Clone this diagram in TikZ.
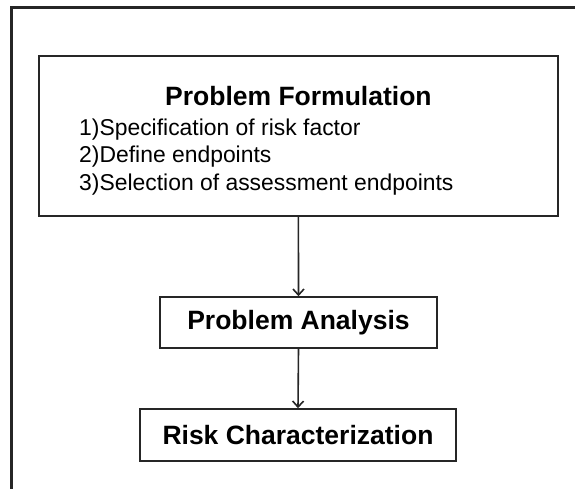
\documentclass[tikz,border=0pt]{standalone}
\usepackage{fontspec}
\setmainfont{Liberation Sans}
\usetikzlibrary{arrows.meta,positioning}

\tikzset{
	stage/.style={draw=black!85, line width=1.6pt, inner sep=0pt, font=\fontsize{26.5}{30}\selectfont\bfseries},
	item/.style={anchor=base west, inner sep=0pt, font=\fontsize{22.9}{27}\selectfont},
	flow/.style={draw=black!85, line width=1.6pt, -{Straight Barb[length=6pt,width=11pt,line width=1.6pt]}}
}

\begin{document}
\begin{tikzpicture}[x=1pt,y=-1pt]
	\useasboundingbox (0,0) rectangle (575,488);
	
	% Rahmen
	\draw[line width=3pt, black!85] (11,500) -- (11,7.3) -- (600,7.3);
	
	% Problem Formulation
	\node[stage, minimum width=519pt, minimum height=160pt] (formulation) at (298.4,136) {};
	\node[stage, draw=none, anchor=base] (title) at (298.4,105) {Problem Formulation};
	\node[item] (spec) at (79,135) {1)Specification of risk factor};
	\node[item] (define) at (79,162.5) {2)Define endpoints};
	\node[item] (select) at (79,190) {3)Selection of assessment endpoints};
	
	% Analysis / Characterization
	\node[stage, minimum width=277pt, minimum height=51pt] (analysis) at (298.5,322.5) {Problem Analysis};
	\node[stage, minimum width=316pt, minimum height=52pt] (character) at (298,435) {Risk Characterization};
	
	% Pfeile
	\draw[flow] (formulation.south) -- (analysis.north);
	\draw[flow] (analysis.south) -- (character.north);
\end{tikzpicture}
\end{document}
